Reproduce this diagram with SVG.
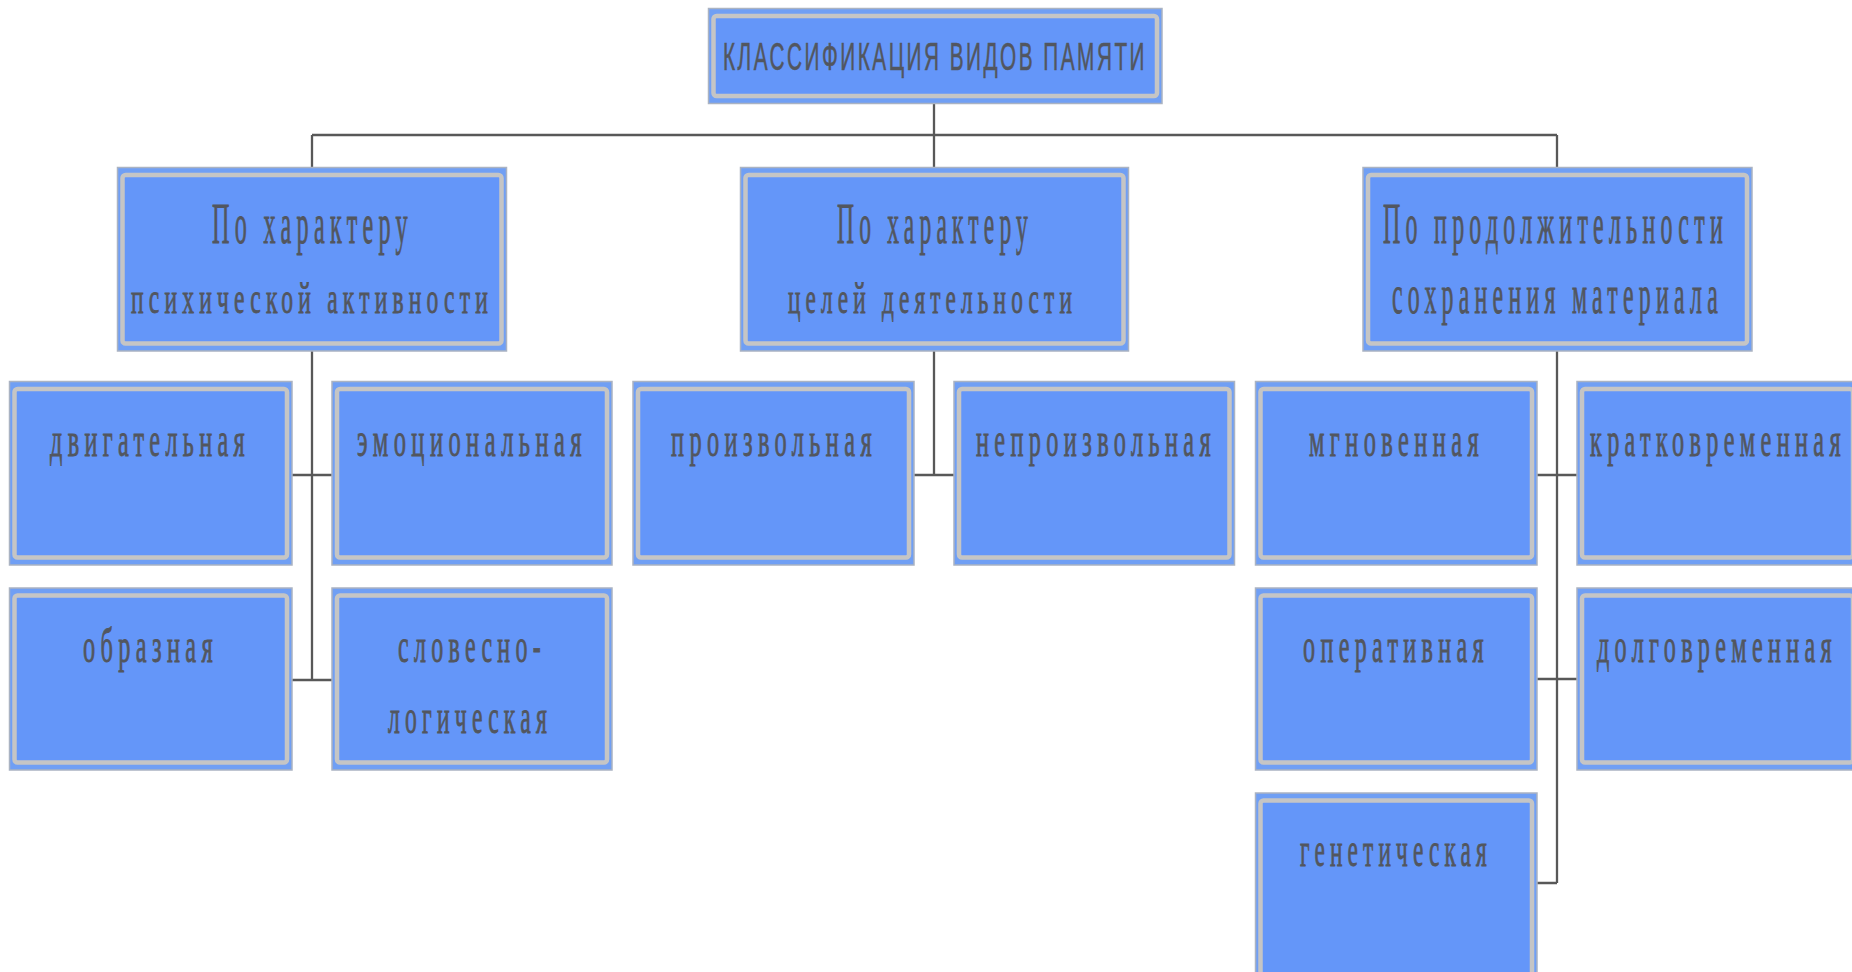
<svg xmlns="http://www.w3.org/2000/svg" width="1852" height="972" viewBox="0 0 1852 972">
<style>
.o{fill:#709ff4;stroke:#aab3c2;stroke-width:1.5}
.i{fill:#6496f9;stroke:#c5c5c5;stroke-width:4.5}
.t{font-family:"Liberation Serif","DejaVu Serif",serif;fill:#52565f;stroke:#52565f;stroke-width:0.9;letter-spacing:0.22em}
.s{font-family:"Liberation Sans","DejaVu Sans",sans-serif;fill:#52565f;stroke:#52565f;stroke-width:0.6;letter-spacing:0.12em}
.c{fill:none;stroke:#585858;stroke-width:2.3}
</style>
<rect width="1852" height="972" fill="#ffffff"/>
<g id="connectors">
<path class="c" d="M934 104V167.5M312 135H1557M312 135V167.5M1557 135V167.5"/>
<path class="c" d="M312 351V680M292 475H332M292 680H332"/>
<path class="c" d="M934 351V475M914 475H954"/>
<path class="c" d="M1557 351V883M1537 475H1577M1537 679H1577M1537 883H1557"/>
</g>
<g id="root">
<rect class="o" x="708.5" y="8.5" width="453.5" height="95"/>
<rect class="i" x="713.5" y="16" width="443.5" height="80" rx="3"/>
<text class="s" transform="scale(0.54,1)" x="1338.9" y="70" font-size="39" textLength="785.2" lengthAdjust="spacingAndGlyphs">КЛАССИФИКАЦИЯ ВИДОВ ПАМЯТИ</text>
</g>
<g id="mid-left">
<rect class="o" x="117.5" y="167.5" width="389" height="183.5"/>
<rect class="i" x="122.5" y="175" width="379" height="168.5" rx="3"/>
<text class="t" transform="scale(0.425,1)" x="498.8" y="243" font-size="58" textLength="472.9" lengthAdjust="spacingAndGlyphs">По характеру</text>
<text class="t" transform="scale(0.54,1)" x="242.6" y="313" font-size="44" textLength="670.4" lengthAdjust="spacingAndGlyphs">психической активности</text>
</g>
<g id="mid-center">
<rect class="o" x="740.5" y="167.5" width="388" height="183.5"/>
<rect class="i" x="745.5" y="175" width="378" height="168.5" rx="3"/>
<text class="t" transform="scale(0.425,1)" x="1969.4" y="243" font-size="58" textLength="461.2" lengthAdjust="spacingAndGlyphs">По характеру</text>
<text class="t" transform="scale(0.53,1)" x="1486.8" y="313" font-size="44" textLength="545.3" lengthAdjust="spacingAndGlyphs">целей деятельности</text>
</g>
<g id="mid-right">
<rect class="o" x="1363" y="167.5" width="389" height="183.5"/>
<rect class="i" x="1368" y="175" width="379" height="168.5" rx="3"/>
<text class="t" transform="scale(0.447,1)" x="3094" y="243" font-size="56" textLength="771.8" lengthAdjust="spacingAndGlyphs">По продолжительности</text>
<text class="t" transform="scale(0.445,1)" x="3128.1" y="313" font-size="54" textLength="743.8" lengthAdjust="spacingAndGlyphs">сохранения материала</text>
</g>
<g id="dvigatelnaya">
<rect class="o" x="9.5" y="381.5" width="282.5" height="183.5"/>
<rect class="i" x="14.5" y="389" width="272.5" height="168.5" rx="3"/>
<text class="t" transform="scale(0.5,1)" x="100" y="456" font-size="48" textLength="400" lengthAdjust="spacingAndGlyphs">двигательная</text>
</g>
<g id="emotsionalnaya">
<rect class="o" x="332" y="381.5" width="280" height="183.5"/>
<rect class="i" x="337" y="389" width="270" height="168.5" rx="3"/>
<text class="t" transform="scale(0.5,1)" x="714" y="456" font-size="48" textLength="460" lengthAdjust="spacingAndGlyphs">эмоциональная</text>
</g>
<g id="obraznaya">
<rect class="o" x="9.5" y="588" width="282.5" height="182"/>
<rect class="i" x="14.5" y="595.5" width="272.5" height="167" rx="3"/>
<text class="t" transform="scale(0.5,1)" x="166" y="662" font-size="48" textLength="270" lengthAdjust="spacingAndGlyphs">образная</text>
</g>
<g id="slovesno-logicheskaya">
<rect class="o" x="332" y="588" width="280" height="182"/>
<rect class="i" x="337" y="595.5" width="270" height="167" rx="3"/>
<text class="t" transform="scale(0.5,1)" x="796" y="662" font-size="48" textLength="296" lengthAdjust="spacingAndGlyphs">словесно-</text>
<text class="t" transform="scale(0.5,1)" x="776" y="733" font-size="48" textLength="328" lengthAdjust="spacingAndGlyphs">логическая</text>
</g>
<g id="proizvolnaya">
<rect class="o" x="633" y="381.5" width="281" height="183.5"/>
<rect class="i" x="638" y="389" width="271" height="168.5" rx="3"/>
<text class="t" transform="scale(0.5,1)" x="1342" y="456" font-size="48" textLength="412" lengthAdjust="spacingAndGlyphs">произвольная</text>
</g>
<g id="neproizvolnaya">
<rect class="o" x="954" y="381.5" width="280.5" height="183.5"/>
<rect class="i" x="959" y="389" width="270.5" height="168.5" rx="3"/>
<text class="t" transform="scale(0.5,1)" x="1952" y="456" font-size="48" textLength="480" lengthAdjust="spacingAndGlyphs">непроизвольная</text>
</g>
<g id="mgnovennaya">
<rect class="o" x="1255.5" y="381.5" width="281.5" height="183.5"/>
<rect class="i" x="1260.5" y="389" width="271.5" height="168.5" rx="3"/>
<text class="t" transform="scale(0.5,1)" x="2618" y="456" font-size="48" textLength="350" lengthAdjust="spacingAndGlyphs">мгновенная</text>
</g>
<g id="kratkovremennaya">
<rect class="o" x="1577" y="381.5" width="281" height="183.5"/>
<rect class="i" x="1582" y="389" width="271" height="168.5" rx="3"/>
<text class="t" transform="scale(0.5,1)" x="3180" y="456" font-size="48" textLength="512" lengthAdjust="spacingAndGlyphs">кратковременная</text>
</g>
<g id="operativnaya">
<rect class="o" x="1255.5" y="588" width="281.5" height="182"/>
<rect class="i" x="1260.5" y="595.5" width="271.5" height="167" rx="3"/>
<text class="t" transform="scale(0.5,1)" x="2606" y="662" font-size="48" textLength="372" lengthAdjust="spacingAndGlyphs">оперативная</text>
</g>
<g id="dolgovremennaya">
<rect class="o" x="1577" y="588" width="281" height="182"/>
<rect class="i" x="1582" y="595.5" width="271" height="167" rx="3"/>
<text class="t" transform="scale(0.5,1)" x="3194" y="662" font-size="48" textLength="480" lengthAdjust="spacingAndGlyphs">долговременная</text>
</g>
<g id="geneticheskaya">
<rect class="o" x="1255.5" y="793" width="281.5" height="190"/>
<rect class="i" x="1260.5" y="800.5" width="271.5" height="175" rx="3"/>
<text class="t" transform="scale(0.5,1)" x="2600" y="866" font-size="48" textLength="384" lengthAdjust="spacingAndGlyphs">генетическая</text>
</g>
</svg>
